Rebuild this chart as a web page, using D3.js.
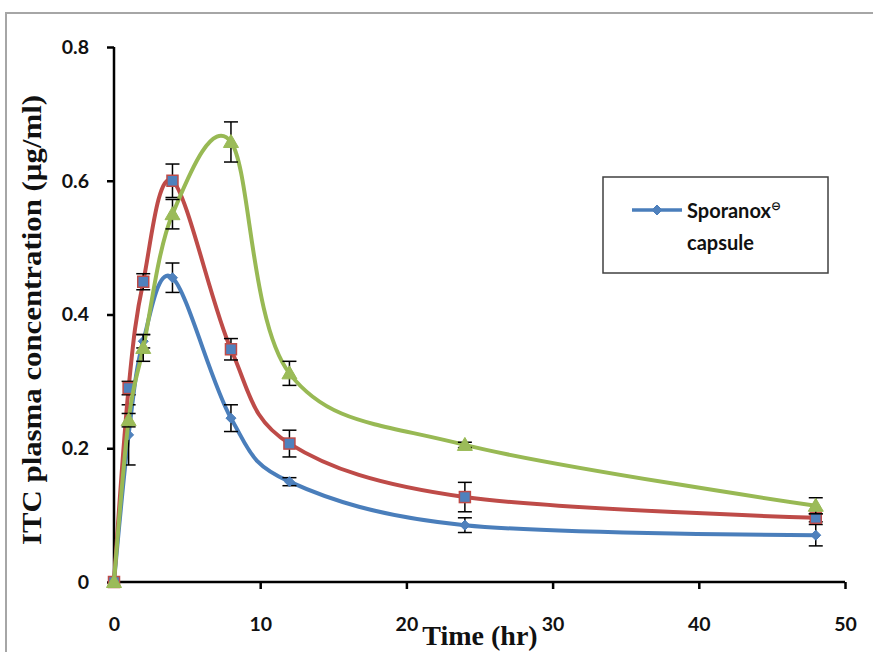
<!DOCTYPE html>
<html><head><meta charset="utf-8">
<script src="https://cdn.jsdelivr.net/npm/d3@7/dist/d3.min.js"></script>
<style>body{margin:0;background:#fff}svg{display:block}</style>
</head><body>
<svg id="c" width="873" height="652"></svg>
<script>
const times = [0, 1, 2, 4, 8, 12, 24, 48];
const blueVals = [0, 0.22, 0.36, 0.455, 0.245, 0.15, 0.085, 0.07];
const blueErr  = [0, 0.045, 0.01, 0.022, 0.02, 0.006, 0.011, 0.016];
const redVals  = [0, 0.29, 0.449, 0.6, 0.348, 0.207, 0.127, 0.096];
const redErr   = [0, 0.01, 0.012, 0.025, 0.016, 0.02, 0.022, 0.006];
const greenVals = [0, 0.242, 0.35, 0.55, 0.658, 0.312, 0.205, 0.114];
const greenErr  = [0, 0.01, 0.02, 0.022, 0.03, 0.018, 0.004, 0.012];
const xTicks = [0, 10, 20, 30, 40, 50];
const yTicks = [0, 0.2, 0.4, 0.6, 0.8];
const legendLabel = ["Sporanox", "\u2296", "capsule"];

const svg = d3.select("#c");
// outer frame
svg.append("rect").attr("x", 6).attr("y", 13).attr("width", 880).attr("height", 660)
  .attr("fill", "none").attr("stroke", "#a6a6a6").attr("stroke-width", 2);

const x = d3.scaleLinear().domain([0, 50]).range([114, 845]);
const y = d3.scaleLinear().domain([0, 0.8]).range([582, 47]);

const tickFont = "Lato, 'Open Sans', sans-serif";
// axes
const gx = svg.append("g").attr("transform", `translate(0,${y(0)})`)
  .call(d3.axisBottom(x).tickValues(xTicks).tickSize(7).tickPadding(28).tickFormat(d3.format("d")));
const gy = svg.append("g").attr("transform", `translate(${x(0)},0)`)
  .call(d3.axisLeft(y).tickValues(yTicks).tickSize(7).tickPadding(18).tickFormat(d => d === 0 ? "0" : d3.format(".1f")(d)));
[gx, gy].forEach(g => {
  g.select(".domain").attr("stroke", "#000").attr("stroke-width", 2.5);
  g.selectAll(".tick line").attr("stroke", "#000").attr("stroke-width", 2.5);
  g.selectAll(".tick text").attr("font-family", tickFont).attr("font-weight", "bold")
    .attr("font-size", 19.5).attr("fill", "#111");
});
gx.select(".domain").attr("d", `M${x(0)},0H${x(50)}`);
gy.select(".domain").attr("d", `M0,${y(0.8)}V${y(0)}`);
gx.selectAll(".tick").filter(d => d === 0).select("line").remove();

// axis titles
svg.append("text").attr("x", 480).attr("y", 645).attr("text-anchor", "middle")
  .attr("font-family", "'Liberation Serif', 'Times New Roman', serif").attr("font-weight", "bold")
  .attr("font-size", 28).attr("fill", "#111").text("Time (hr)");
svg.append("text").attr("transform", "translate(41,320) rotate(-90)").attr("text-anchor", "middle")
  .attr("font-family", "'Liberation Serif', 'Times New Roman', serif").attr("font-weight", "bold")
  .attr("font-size", 28).attr("fill", "#111")
  .attr("textLength", 450).attr("lengthAdjust", "spacingAndGlyphs")
  .text("ITC plasma concentration  (\u00b5g/ml)");

const series = [
  {vals: blueVals, err: blueErr, color: "#4a7ebb", marker: "diamond"},
  {vals: redVals, err: redErr, color: "#be4b48", marker: "square"},
  {vals: greenVals, err: greenErr, color: "#98b954", marker: "triangle"}
];
const line = d3.line().x(d => x(d[0])).y(d => y(d[1])).curve(d3.curveCardinal.tension(0));

function drawMarker(g, type, cx, cy) {
  if (type === "diamond") {
    g.append("path").attr("d", `M${cx},${cy-5}L${cx+5},${cy}L${cx},${cy+5}L${cx-5},${cy}Z`)
      .attr("fill", "#4f81bd").attr("stroke", "#4a7ebb").attr("stroke-width", 1);
  } else if (type === "square") {
    g.append("rect").attr("x", cx-5.5).attr("y", cy-5.5).attr("width", 11).attr("height", 11)
      .attr("fill", "#4f81bd").attr("stroke", "#be4b48").attr("stroke-width", 1.5);
  } else {
    g.append("path").attr("d", `M${cx},${cy-7.5}L${cx+7.5},${cy+5.5}L${cx-7.5},${cy+5.5}Z`)
      .attr("fill", "#9bbb59").attr("stroke", "#98b954").attr("stroke-width", 1);
  }
}

series.forEach(s => {
  const pts = times.map((t, i) => [t, s.vals[i]]);
  const g = svg.append("g");
  g.append("path").attr("d", line(pts)).attr("fill", "none").attr("stroke", s.color)
    .attr("stroke-width", 4).attr("stroke-linejoin", "round").attr("stroke-linecap", "round");
  const eb = g.append("g");
  times.forEach((t, i) => {
    if (!s.err[i]) return;
    const cx = x(t), y1 = y(s.vals[i] + s.err[i]), y2 = y(s.vals[i] - s.err[i]);
    eb.append("line").attr("x1", cx).attr("x2", cx).attr("y1", y1).attr("y2", y2).attr("stroke", "#000").attr("stroke-width", 1.5);
    eb.append("line").attr("x1", cx-7).attr("x2", cx+7).attr("y1", y1).attr("y2", y1).attr("stroke", "#000").attr("stroke-width", 1.5);
    eb.append("line").attr("x1", cx-7).attr("x2", cx+7).attr("y1", y2).attr("y2", y2).attr("stroke", "#000").attr("stroke-width", 1.5);
  });
  pts.forEach(p => drawMarker(g, s.marker, x(p[0]), y(p[1])));
});

// legend
const lg = svg.append("g");
lg.append("rect").attr("x", 603).attr("y", 177).attr("width", 225).attr("height", 96)
  .attr("fill", "#fff").attr("stroke", "#404040").attr("stroke-width", 1.5);
lg.append("line").attr("x1", 632).attr("x2", 682).attr("y1", 210).attr("y2", 210)
  .attr("stroke", "#4a7ebb").attr("stroke-width", 3.5);
drawMarker(lg, "diamond", 657, 210);
const lt = lg.append("text").attr("x", 687).attr("y", 218).attr("font-family", tickFont)
  .attr("font-weight", "bold").attr("font-size", 20).attr("fill", "#111");
lt.append("tspan").text(legendLabel[0]);
lt.append("tspan").attr("font-size", 12).attr("dy", -8).attr("font-family", "'DejaVu Sans', sans-serif").text(legendLabel[1]);
lg.append("text").attr("x", 687).attr("y", 250).attr("font-family", tickFont)
  .attr("font-weight", "bold").attr("font-size", 20).attr("fill", "#111").text(legendLabel[2]);
</script>
</body></html>
